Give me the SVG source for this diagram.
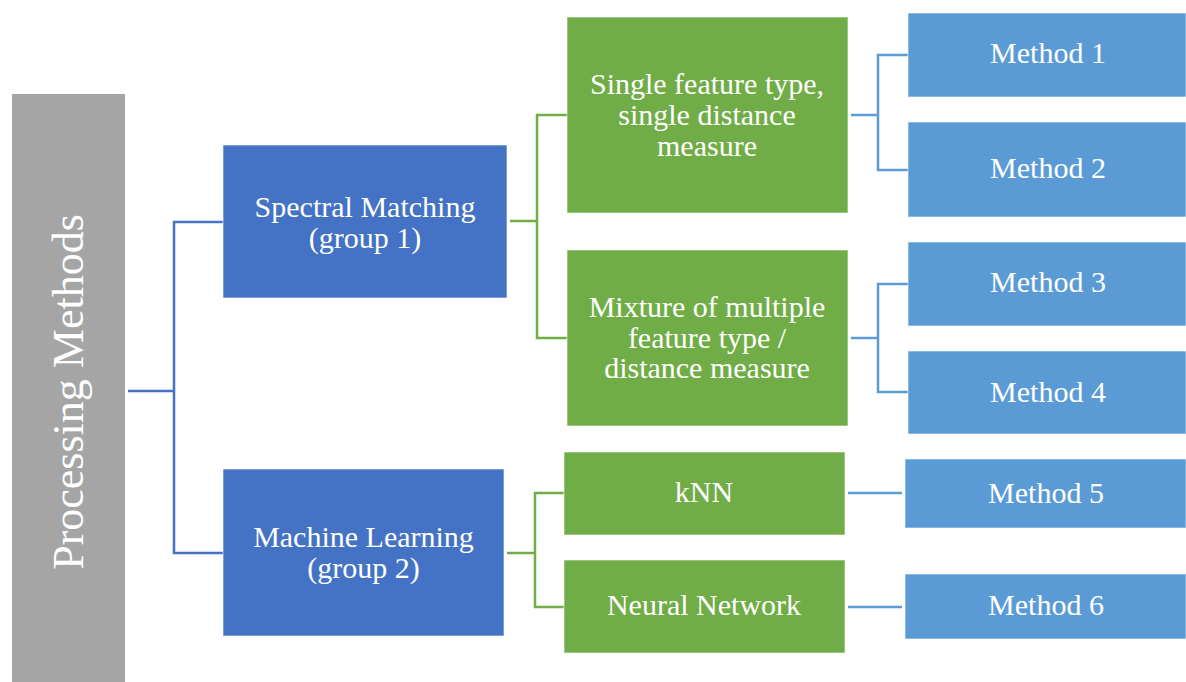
<svg xmlns="http://www.w3.org/2000/svg" width="1186" height="682" viewBox="0 0 1186 682">
  <style>
    .box { stroke: #ffffff; stroke-width: 1; stroke-opacity: 0.6; }
    .root { fill: #A5A5A5; }
    .grp { fill: #4472C4; }
    .sub { fill: #70AD47; }
    .meth { fill: #5B9BD5; }
    text { font-family: "Liberation Serif", "Times New Roman", serif; font-size: 30px; fill: #ffffff; text-anchor: middle; }
    .big { font-size: 44px; }
    .link { fill: none; stroke-width: 2.5; }
    .l-blue { stroke: #4472C4; }
    .l-green { stroke: #70AD47; }
    .l-light { stroke: #5B9BD5; }
  </style>
  <rect width="1186" height="682" fill="#ffffff"/>

  <!-- connectors -->
  <g id="connectors">
    <path class="link l-blue" d="M128,391 H174"/>
    <path class="link l-blue" d="M223,222 H174 V553 H223"/>
    <path class="link l-green" d="M510,221 H537"/>
    <path class="link l-green" d="M567,115 H537 V338 H567"/>
    <path class="link l-green" d="M507,553 H535"/>
    <path class="link l-green" d="M564,493 H535 V607 H564"/>
    <path class="link l-light" d="M851,115 H878"/>
    <path class="link l-light" d="M908,55 H878 V170 H908"/>
    <path class="link l-light" d="M851,338 H878"/>
    <path class="link l-light" d="M908,284 H878 V392 H908"/>
    <path class="link l-light" d="M848,493 H902"/>
    <path class="link l-light" d="M848,607 H902"/>
  </g>

  <!-- root -->
  <g id="processing-methods">
    <rect class="root" x="12" y="94" width="113" height="588"/>
    <text class="big" transform="translate(83,392) rotate(-90)">Processing Methods</text>
  </g>

  <!-- groups -->
  <g id="spectral-matching">
    <rect class="box grp" x="223" y="145" width="284" height="153"/>
    <text x="365" y="217">Spectral Matching</text>
    <text x="365" y="248">(group 1)</text>
  </g>
  <g id="machine-learning">
    <rect class="box grp" x="223" y="469" width="281" height="167"/>
    <text x="363.5" y="547">Machine Learning</text>
    <text x="363.5" y="578">(group 2)</text>
  </g>

  <!-- sub-categories -->
  <g id="single-feature">
    <rect class="box sub" x="567" y="17" width="281" height="196"/>
    <text x="707" y="94">Single feature type,</text>
    <text x="707" y="125">single distance</text>
    <text x="707" y="156">measure</text>
  </g>
  <g id="mixture-feature">
    <rect class="box sub" x="567" y="250" width="281" height="176"/>
    <text x="707" y="317">Mixture of multiple</text>
    <text x="707" y="348">feature type /</text>
    <text x="707" y="378">distance measure</text>
  </g>
  <g id="knn">
    <rect class="box sub" x="564" y="452" width="281" height="83"/>
    <text x="704" y="502">kNN</text>
  </g>
  <g id="neural-network">
    <rect class="box sub" x="564" y="560" width="281" height="93"/>
    <text x="704" y="615">Neural Network</text>
  </g>

  <!-- methods -->
  <g id="method-1">
    <rect class="box meth" x="908" y="13" width="278" height="84"/>
    <text x="1048" y="63">Method 1</text>
  </g>
  <g id="method-2">
    <rect class="box meth" x="908" y="122" width="278" height="95"/>
    <text x="1048" y="178">Method 2</text>
  </g>
  <g id="method-3">
    <rect class="box meth" x="908" y="242" width="278" height="84"/>
    <text x="1048" y="292">Method 3</text>
  </g>
  <g id="method-4">
    <rect class="box meth" x="908" y="351" width="278" height="83"/>
    <text x="1048" y="402">Method 4</text>
  </g>
  <g id="method-5">
    <rect class="box meth" x="905" y="459" width="281" height="69"/>
    <text x="1046" y="503">Method 5</text>
  </g>
  <g id="method-6">
    <rect class="box meth" x="905" y="574" width="281" height="65"/>
    <text x="1046" y="615">Method 6</text>
  </g>
</svg>
